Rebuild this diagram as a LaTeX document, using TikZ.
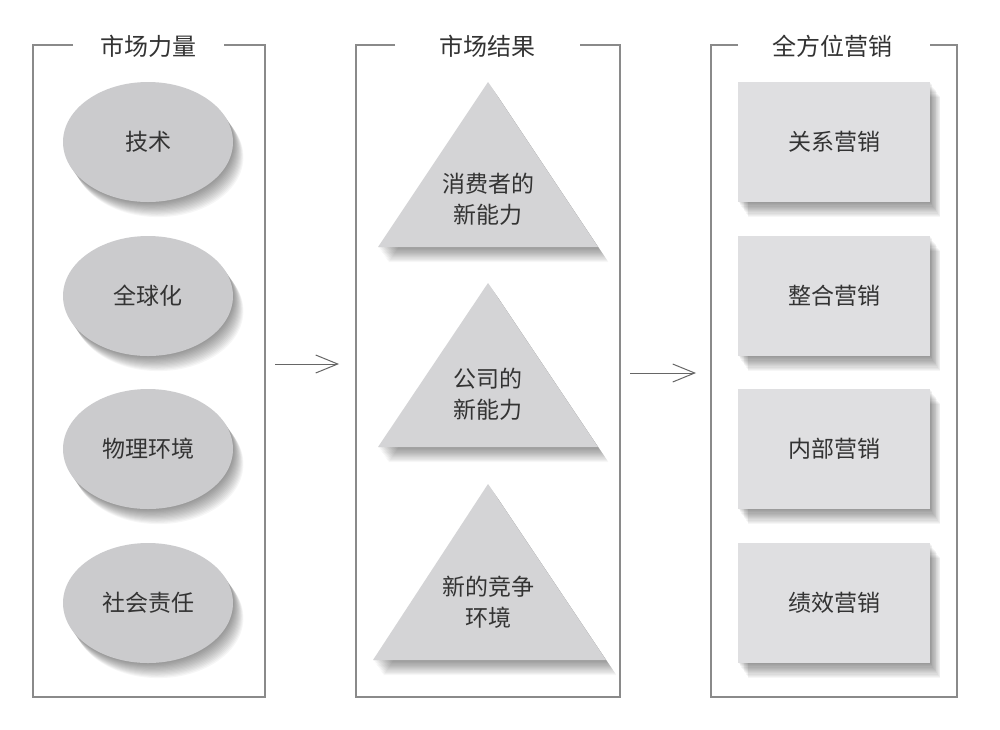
\documentclass[tikz,border=0pt]{standalone}
\usepackage{fontspec}
\setmainfont{Noto Sans CJK SC}
\usetikzlibrary{shapes.geometric,shadows,arrows.meta}
\definecolor{framec}{HTML}{8A8A8A}
\definecolor{ellfill}{HTML}{CBCBCD}
\definecolor{trifill}{HTML}{D4D4D6}
\definecolor{recfill}{HTML}{DFDFE1}
\definecolor{txtc}{HTML}{333333}
\definecolor{arrc}{HTML}{666666}
\tikzset{
  frameline/.style={draw=framec, line width=0.75pt},
  shl/.style={general shadow={fill=black, opacity=0.034, shadow xshift=#1*0.4pt, shadow yshift=-#1*0.58pt}},
  softshadow/.style={shl=1,shl=2,shl=3,shl=4,shl=5,shl=6,shl=7,shl=8,shl=9,shl=10,shl=11,shl=12,shl=13},
  titletext/.style={text=txtc, font=\fontsize{12pt}{14pt}\selectfont, inner sep=0pt},
  bodytext/.style={text=txtc, font=\fontsize{11.5pt}{15.5pt}\selectfont, align=center, inner sep=0pt},
  ell/.style={ellipse, fill=ellfill, minimum width=85pt, minimum height=60pt, softshadow, bodytext},
  rec/.style={rectangle, fill=recfill, minimum width=96pt, minimum height=60pt, softshadow, bodytext},
  tri/.style={fill=trifill, softshadow},
  arr/.style={draw=arrc, line width=0.5pt, -{Straight Barb[length=11pt,width=9pt]}}
}
\begin{document}
\begin{tikzpicture}[x=0.5pt, y=-0.5pt]
\useasboundingbox[fill=white] (0,0) rectangle (1000,729);
% panel 1
\draw[frameline] (73,45) -- (33,45) -- (33,697) -- (265,697) -- (265,45) -- (224,45);
\node[titletext] (t1) at (148,46) {市场力量};
% panel 2
\draw[frameline] (395,45) -- (356,45) -- (356,697) -- (620,697) -- (620,45) -- (580,45);
\node[titletext] (t2) at (487,46) {市场结果};
% panel 3
\draw[frameline] (738,45) -- (711,45) -- (711,697) -- (957,697) -- (957,45) -- (930,45);
\node[titletext] (t3) at (832,46) {全方位营销};
% ellipses
\node[ell] (e1) at (148,142) {技术};
\node[ell] (e2) at (148,296) {全球化};
\node[ell] (e3) at (148,449) {物理环境};
\node[ell] (e4) at (148,603) {社会责任};
% triangles
\fill[tri] (488,82) -- (598,247) -- (378,247) -- cycle;
\node[bodytext] (m1) at (488,199) {消费者的\\新能力};
\fill[tri] (488,283) -- (598,447) -- (378,447) -- cycle;
\node[bodytext] (m2) at (488,394) {公司的\\新能力};
\fill[tri] (488,484) -- (606,660) -- (373,660) -- cycle;
\node[bodytext] (m3) at (488,602) {新的竞争\\环境};
% rectangles
\node[rec] (r1) at (834,142) {关系营销};
\node[rec] (r2) at (834,296) {整合营销};
\node[rec] (r3) at (834,449) {内部营销};
\node[rec] (r4) at (834,603) {绩效营销};
% arrows
\coordinate (a1s) at (275,364);
\coordinate (a1e) at (339,364);
\coordinate (a2s) at (630,373);
\coordinate (a2e) at (696,373);
\draw[arr] (a1s) -- (a1e);
\draw[arr] (a2s) -- (a2e);
\end{tikzpicture}
\end{document}
